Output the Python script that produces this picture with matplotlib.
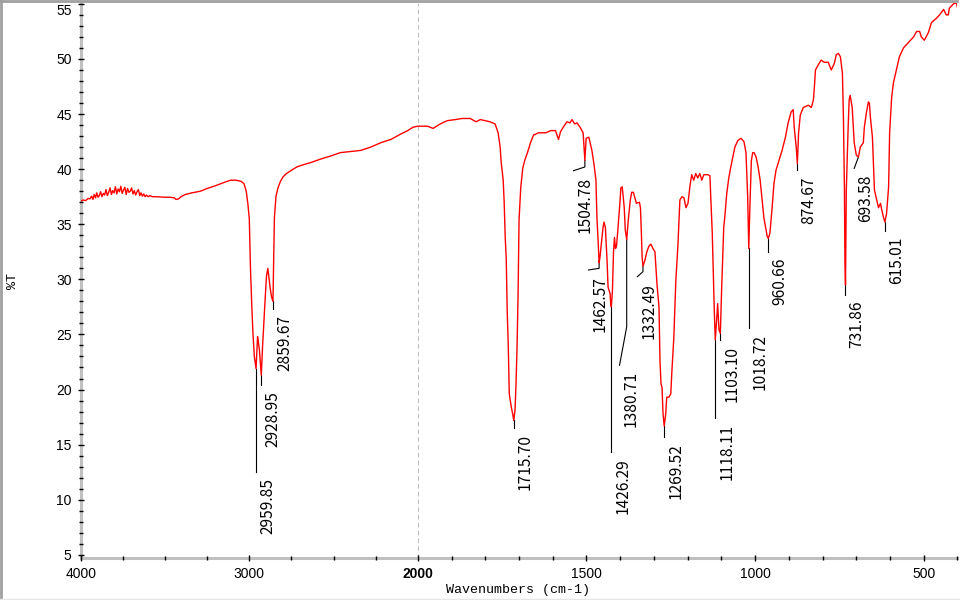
import numpy as np
import matplotlib
matplotlib.use('Agg')
import matplotlib.pyplot as plt
from matplotlib.lines import Line2D

# 光谱数据: 波数 (cm-1) 与透过率 (%T)
wavenumber = [
    4000, 3985, 3970, 3955, 3945, 3935, 3927, 3920, 3912, 3905, 3897, 3890, 3882, 3874,
    3866, 3858, 3850, 3842, 3834, 3826, 3818, 3810, 3802, 3794, 3786, 3778, 3770, 3762,
    3754, 3746, 3738, 3730, 3722, 3714, 3706, 3698, 3690, 3682, 3674, 3666, 3658, 3650,
    3642, 3634, 3626, 3618, 3610, 3600, 3590, 3575, 3550, 3500, 3470, 3445, 3435, 3420,
    3405, 3380, 3340, 3290, 3250, 3200, 3140, 3110, 3080, 3050, 3032, 3018, 3008, 3000,
    2993, 2985, 2978, 2970, 2959.85, 2955, 2951, 2946, 2940, 2935, 2928.95, 2921, 2914,
    2905, 2898, 2890, 2882, 2876, 2868, 2859.67, 2856, 2851, 2842, 2830, 2815, 2800, 2780,
    2750, 2718, 2680, 2635, 2580, 2516, 2460, 2400, 2340, 2280, 2220, 2160, 2100, 2060,
    2030, 2000,
    1972, 1955, 1934, 1913, 1889, 1869, 1845, 1827, 1815, 1786, 1771, 1762, 1756, 1753,
    1747, 1744, 1741, 1738, 1735, 1732, 1729, 1723, 1719, 1715.70, 1712, 1709, 1706, 1703,
    1700, 1695, 1689, 1683, 1675, 1666, 1657, 1642, 1621, 1606, 1592, 1583, 1577, 1567,
    1558, 1549, 1543, 1535, 1528, 1519, 1510, 1504.78, 1501, 1493, 1484, 1478, 1472, 1469,
    1466, 1464, 1462.57, 1460, 1454, 1451, 1448, 1444, 1439, 1436, 1430, 1428.5, 1426.29,
    1423, 1420, 1417, 1414, 1411, 1407, 1401, 1398, 1394, 1388, 1385, 1380.71, 1376, 1370,
    1366, 1361, 1352, 1343, 1340, 1337, 1335, 1332.49, 1327, 1321, 1315, 1309, 1303, 1297,
    1291, 1285, 1282, 1279, 1276, 1273, 1269.52, 1265, 1262, 1256, 1250, 1247, 1241, 1235,
    1229, 1223, 1217, 1211, 1205, 1199, 1193, 1188, 1182, 1176, 1170, 1164, 1158, 1152,
    1140, 1134, 1127, 1124, 1121, 1118.11, 1114, 1111, 1107, 1103.10, 1099, 1096, 1093,
    1090, 1084, 1078, 1072, 1066, 1060, 1051, 1042, 1033, 1027, 1022, 1020, 1018.72, 1015,
    1011, 1007, 1003, 997, 991, 985, 980, 974, 968, 964, 960.66, 956, 950, 944, 938, 929,
    920, 910, 902, 893, 887, 884, 878, 874.67, 871, 866, 857, 842, 833, 827, 824, 821, 812,
    804, 795, 783, 774, 765, 759, 753, 747, 741, 738, 735, 733.5, 731.86, 729.5, 724, 721,
    718, 712, 706, 700, 693.58, 688, 679, 676, 670, 664, 661, 658, 652, 649, 646, 637, 634,
    628, 625, 619, 615.01, 610, 604, 601, 595, 590, 581, 572, 560, 545, 530, 521, 512, 507,
    498, 486, 477, 462, 453, 441, 433, 427, 424, 412, 403, 400,
]
transmittance = [
    37.1, 37.2, 37.15, 37.35, 37.3, 37.55, 37.25, 37.7, 37.4, 37.85, 37.45, 37.6, 37.95, 37.5,
    37.8, 37.65, 38.15, 37.6, 37.9, 38.3, 37.7, 38.05, 37.85, 38.4, 37.75, 38.2, 37.95, 38.45,
    37.8, 38.1, 38.35, 37.7, 38.25, 37.9, 38.0, 38.3, 37.75, 38.05, 37.65, 37.95, 38.15, 37.6,
    37.85, 37.55, 37.75, 37.5, 37.65, 37.5, 37.6, 37.5, 37.5, 37.45, 37.45, 37.4, 37.25, 37.3,
    37.5, 37.7, 37.85, 38.0, 38.25, 38.5, 38.85, 39.0, 39.0, 38.9, 38.7, 38.0, 36.8, 35.5,
    31.0, 27.5, 25.0, 23.0, 21.9, 23.5, 24.8, 24.3, 23.6, 22.5, 21.3, 24.0, 26.0,
    28.5, 30.3, 31.0, 30.0, 29.2, 28.4, 28.0, 31.0, 35.6, 37.5, 38.3, 38.9, 39.3, 39.6,
    39.9, 40.2, 40.4, 40.6, 40.9, 41.2, 41.5, 41.6, 41.7, 42.0, 42.4, 42.7, 43.2, 43.5,
    43.8, 43.9,
    43.9, 43.7, 44.1, 44.4, 44.5, 44.6, 44.6, 44.3, 44.5, 44.3, 44.1, 43.3, 42.0, 40.6,
    39.0, 36.9, 33.8, 31.9, 27.0, 24.0, 19.6, 18.4, 17.8, 17.2, 18.1, 20.5, 23.8, 28.4,
    35.4, 38.3, 40.1, 40.8, 41.5, 42.4, 43.1, 43.3, 43.3, 43.5, 43.5, 42.7, 43.4, 43.9,
    44.3, 44.2, 44.5, 44.1, 44.2, 43.8, 43.3, 40.8, 42.8, 42.9, 41.7, 40.5, 39.0, 35.6,
    33.8, 32.4, 31.5, 32.0, 33.8, 34.7, 35.2, 34.7, 31.7, 29.3, 28.7, 27.9, 27.5,
    29.0, 32.4, 33.8, 32.8, 33.0, 34.5, 36.9, 38.3, 38.4, 36.5, 34.5, 33.6, 35.4, 37.2,
    37.9, 37.9, 36.9, 37.0, 36.5, 34.0, 32.0, 31.2, 31.7, 32.5, 33.0, 33.2, 32.8, 32.5,
    29.6, 27.5, 22.6, 20.5, 20.2, 17.8, 16.7, 17.8, 19.3, 19.3, 19.6, 21.5, 24.7, 29.9,
    33.0, 37.2, 37.5, 37.4, 36.5, 36.9, 38.5, 39.5, 39.0, 39.6, 39.2, 39.6, 39.0, 39.5,
    39.5, 39.4, 34.2, 30.5, 27.2, 24.5, 26.3, 27.8, 25.4, 25.1, 29.3, 32.0, 34.7,
    35.6, 37.8, 39.2, 40.2, 41.1, 42.0, 42.6, 42.8, 42.5, 41.5, 37.5, 34.6, 32.8, 37.0,
    40.8, 41.5, 41.5, 41.1, 40.2, 39.0, 37.5, 35.6, 34.6, 33.9, 33.7, 34.2, 36.3, 38.7, 39.9, 40.8,
    41.7, 42.9, 44.2, 45.2, 45.4, 43.8, 42.0, 40.5, 43.3, 44.9, 45.6, 45.8, 45.6, 46.3, 47.5, 49.0, 49.5,
    49.9, 49.7, 49.7, 49.0, 49.6, 50.4, 50.5, 50.2, 48.7, 44.7, 38.1, 31.5, 29.5, 38.1, 43.8, 46.3,
    46.7, 45.6, 42.4, 41.3, 41.1, 42.0, 42.4, 43.8, 45.1, 46.1, 46.0, 44.7, 42.9, 40.5, 38.1, 36.9, 36.5,
    36.9, 36.4, 35.6, 35.2, 36.0, 38.4, 43.3, 46.5, 47.8, 49.0, 50.2, 51.0, 51.5, 52.0, 52.5, 52.5, 52.0,
    51.7, 52.4, 53.3, 53.7, 54.0, 54.5, 54.0, 54.0, 54.6, 55.0, 55.1, 54.7,
]

# 峰标注
peak_labels = ['2959.85', '2928.95', '2859.67', '1715.70', '1504.78', '1462.57',
               '1426.29', '1380.71', '1332.49', '1269.52', '1118.11', '1103.10',
               '1018.72', '960.66', '874.67', '731.86', '693.58', '615.01']
# 引线: 竖线终点 %T, 折线终点 (波数, %T)
leader_mid = [12.55, 20.4, 27.3, 16.5, 40.2, 31.0, 14.35, 25.7, 30.7, 15.7, 17.4,
              24.5, 25.55, 32.5, 39.9, 28.6, 41.1, 34.4]
leader_end_wn = [2959.85, 2928.95, 2859.67, 1715.70, 1538.6, 1494.0, 1426.29, 1402.0,
                 1349.0, 1269.52, 1118.11, 1103.10, 1018.72, 960.66, 874.67, 731.86,
                 706.0, 615.01]
leader_end_t = [12.55, 20.4, 27.3, 16.5, 39.86, 30.85, 14.35, 22.2, 30.24, 15.7, 17.4,
                24.5, 25.55, 32.5, 39.9, 28.6, 40.07, 34.4]

xticks = [4000, 3000, 2000, 1500, 1000, 500]
xminor = [3750, 3500, 3250, 2750, 2500, 2250] + list(range(1900, 399, -100))


# 2000 以上压缩一半的横轴
def fwd(w):
    w = np.asarray(w, dtype=float)
    return np.where(w > 2000, 1000 + w / 2, w)


def inv(u):
    u = np.asarray(u, dtype=float)
    return np.where(u > 2000, 2 * (u - 1000), u)


wn = np.array(wavenumber)
tr = np.array(transmittance)

fig = plt.figure(figsize=(9.6, 6), dpi=100)
ax = fig.add_axes([80.7 / 960, 42 / 600, 876.7 / 960, 555 / 600])
ax.set_xscale('function', functions=(fwd, inv))
ax.set_xlim(4000, 400)
ax.set_ylim(4.71, 55.08)

ax.axvline(2000, color='#c0c0c0', lw=0.8, ls=(0, (4, 3)), zorder=1)
ax.plot(wn, tr, color='#ff0000', lw=1.0, zorder=3)

for lab, mid, ew, et in zip(peak_labels, leader_mid, leader_end_wn, leader_end_t):
    pw = float(lab)
    pt = np.interp(pw, wn[::-1], tr[::-1])
    ax.plot([pw, pw, ew], [pt, mid, et], color='black', lw=0.8, zorder=2)
    ax.annotate(lab, xy=(ew, et), xytext=(3, -6), textcoords='offset pixels',
                rotation=90, ha='left', va='top', fontsize=11.2,
                family=['Noto Sans CJK SC', 'DejaVu Sans'], color='black')

# 坐标轴样式
for side in ['top', 'right']:
    ax.spines[side].set_visible(False)
for side in ['left', 'bottom']:
    ax.spines[side].set_color('#c0c0c0')
    ax.spines[side].set_linewidth(2.2)
    ax.spines[side].set_zorder(1)

ax.set_xticks(xticks)
ax.set_xticklabels([str(t) for t in xticks])
ax.set_xticks(xminor, minor=True)
ax.set_yticks(range(5, 56, 5))
ax.set_yticks(range(5, 56, 1), minor=True)
ax.tick_params(which='major', direction='inout', length=5, width=1, color='black',
               labelsize=10, pad=4)
ax.tick_params(which='minor', direction='inout', length=3, width=1, color='black')
ax.tick_params(axis='x', which='major', pad=4)
for lbl in ax.get_xticklabels() + ax.get_yticklabels():
    lbl.set_family('Liberation Sans')
ax.get_xticklabels()[2].set_fontweight('bold')
ax.get_yticklabels()[-1].set_verticalalignment('top')

fig.text(518 / 960, 1 - 590 / 600, 'Wavenumbers (cm-1)', ha='center', va='center',
         family='Liberation Mono', fontsize=9.6)
fig.text(12.5 / 960, 1 - 281 / 600, '%T', rotation=90, ha='center', va='center',
         family='Liberation Mono', fontsize=9.6)

# 窗口边框
fig.add_artist(Line2D([0.001, 0.001], [0, 1], transform=fig.transFigure,
                      color='#a0a0a0', lw=2))
fig.add_artist(Line2D([0, 957 / 960], [1 - 1 / 600] * 2, transform=fig.transFigure,
                      color='#a0a0a0', lw=2))
fig.add_artist(Line2D([0, 1], [1 - 598.5 / 600] * 2, transform=fig.transFigure,
                      color='#e6e6e6', lw=1))

fig.savefig('out.png', dpi=100)
